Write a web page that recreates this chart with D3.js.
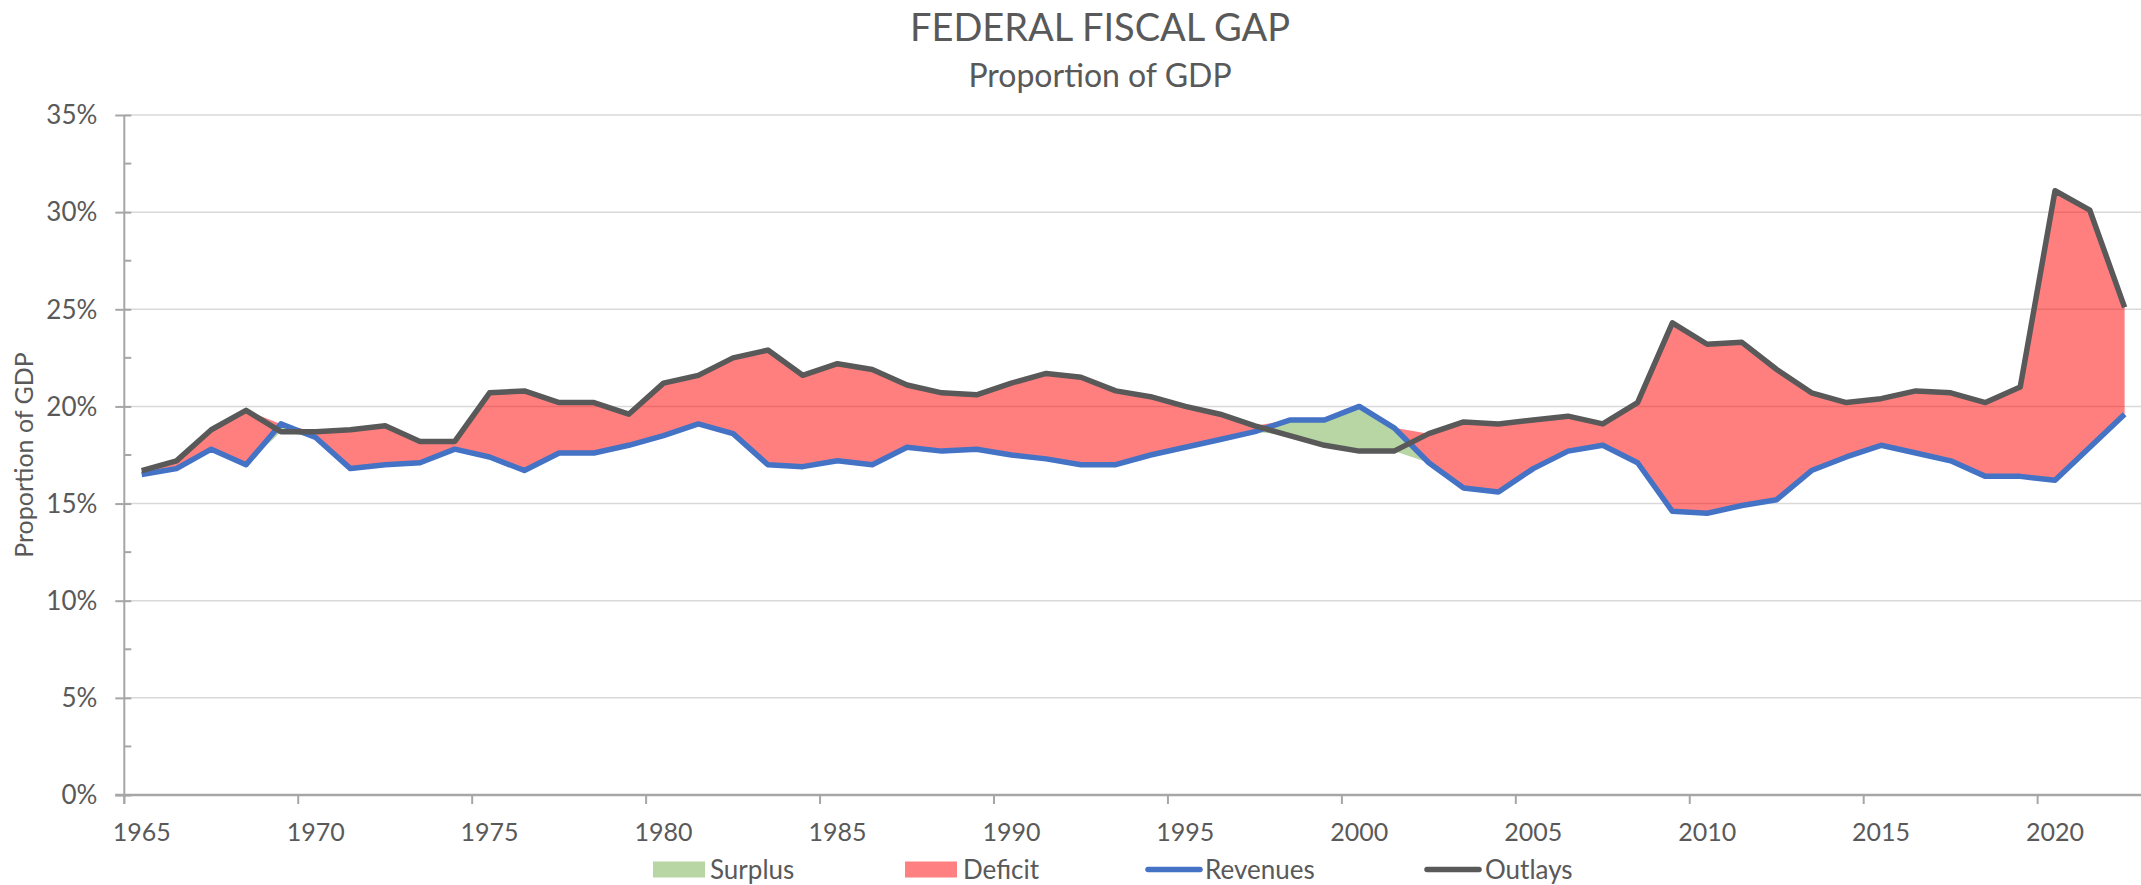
<!DOCTYPE html>
<html>
<head>
<meta charset="utf-8">
<script src="https://cdn.jsdelivr.net/npm/d3@7"></script>
<style>
  body { margin: 0; background: #fff; }
  svg text { font-family: Lato, "Open Sans", sans-serif; fill: #595959; }
</style>
</head>
<body>
<svg id="chart"></svg>
<script>
var years = d3.range(1965, 2023);

// receipts and outlays, % of GDP
var revenues = [16.5, 16.8, 17.8, 17.0, 19.1, 18.4, 16.8, 17.0, 17.1, 17.8,
  17.4, 16.7, 17.6, 17.6, 18.0, 18.5, 19.1, 18.6, 17.0, 16.9,
  17.2, 17.0, 17.9, 17.7, 17.8, 17.5, 17.3, 17.0, 17.0, 17.5,
  17.9, 18.3, 18.7, 19.3, 19.3, 20.0, 18.9, 17.1, 15.8, 15.6,
  16.8, 17.7, 18.0, 17.1, 14.6, 14.5, 14.9, 15.2, 16.7, 17.4,
  18.0, 17.6, 17.2, 16.4, 16.4, 16.2, 17.9, 19.6];

var outlays = [16.7, 17.2, 18.8, 19.8, 18.7, 18.7, 18.8, 19.0, 18.2, 18.2,
  20.7, 20.8, 20.2, 20.2, 19.6, 21.2, 21.6, 22.5, 22.9, 21.6,
  22.2, 21.9, 21.1, 20.7, 20.6, 21.2, 21.7, 21.5, 20.8, 20.5,
  20.0, 19.6, 19.0, 18.5, 18.0, 17.7, 17.7, 18.6, 19.2, 19.1,
  19.3, 19.5, 19.1, 20.2, 24.3, 23.2, 23.3, 21.9, 20.7, 20.2,
  20.4, 20.8, 20.7, 20.2, 21.0, 31.1, 30.1, 25.1];

var yTicks = [0, 5, 10, 15, 20, 25, 30, 35];
var xLabelYears = d3.range(1965, 2021, 5);

var width = 2141, height = 885;
var plot = { left: 124.3, right: 2142, top: 115, bottom: 795 };

var svg = d3.select('#chart').attr('width', width).attr('height', height);

var x = d3.scaleBand().domain(years).range([plot.left, plot.right]).padding(0);
var xc = function(yr) { return x(yr) + x.bandwidth() / 2; };
var y = d3.scaleLinear().domain([0, 35]).range([plot.bottom, plot.top]);

// stacked table: invisible base, surplus, deficit
var table = years.map(function(yr, i) {
  var r = revenues[i], o = outlays[i];
  return {
    year: yr,
    base: Math.min(r, o),
    surplus: Math.max(r - o, 0),
    deficit: Math.max(o - r, 0)
  };
});
var stacked = d3.stack().keys(['base', 'surplus', 'deficit'])(table);

// gridlines
svg.append('g')
  .selectAll('line')
  .data(yTicks.slice(1))
  .enter()
  .append('line')
  .attr('x1', plot.left).attr('x2', plot.right)
  .attr('y1', function(d) { return y(d); })
  .attr('y2', function(d) { return y(d); })
  .attr('stroke', '#d9d9d9')
  .attr('stroke-width', 1.5);

var area = d3.area()
  .x(function(d) { return xc(d.data.year); })
  .y0(function(d) { return y(d[0]); })
  .y1(function(d) { return y(d[1]); });

svg.append('path')
  .datum(stacked[1])
  .attr('d', area)
  .attr('fill', 'rgba(112,173,71,0.5)');

svg.append('path')
  .datum(stacked[2])
  .attr('d', area)
  .attr('fill', 'rgba(255,0,0,0.5)');

// y axis
var yAxis = svg.append('g').attr('transform', 'translate(' + plot.left + ',0)');
yAxis.call(d3.axisLeft(y).tickValues(yTicks).tickFormat(function(d) { return d + '%'; }).tickSize(9).tickPadding(18))
yAxis.select('.domain').remove();
yAxis.selectAll('.tick line').attr('stroke', '#a6a6a6').attr('stroke-width', 2).attr('x2', 7).attr('x1', -9);
yAxis.selectAll('.tick text')
  .style('font-size', '26px')
  .attr('dy', '0.34em');
yAxis.selectAll('.minor')
  .data(d3.range(2.5, 35, 5))
  .enter()
  .append('line')
  .attr('x1', 0).attr('x2', 7)
  .attr('y1', function(d) { return y(d); })
  .attr('y2', function(d) { return y(d); })
  .attr('stroke', '#a6a6a6')
  .attr('stroke-width', 2);
yAxis.append('line')
  .attr('x1', 0).attr('x2', 0)
  .attr('y1', plot.top).attr('y2', plot.bottom + 9)
  .attr('stroke', '#a6a6a6')
  .attr('stroke-width', 2);

// x axis
var xAxis = svg.append('g');
xAxis.append('line')
  .attr('x1', plot.left - 9).attr('x2', plot.right)
  .attr('y1', plot.bottom).attr('y2', plot.bottom)
  .attr('stroke', '#a6a6a6')
  .attr('stroke-width', 2.5);
xAxis.selectAll('.xtick')
  .data(years.filter(function(yr) { return (yr - 1965) % 5 === 0; }))
  .enter()
  .append('line')
  .attr('x1', function(d) { return x(d); })
  .attr('x2', function(d) { return x(d); })
  .attr('y1', plot.bottom).attr('y2', plot.bottom + 9)
  .attr('stroke', '#a6a6a6')
  .attr('stroke-width', 2);
xAxis.selectAll('.xlabel')
  .data(xLabelYears)
  .enter()
  .append('text')
  .attr('x', function(d) { return xc(d); })
  .attr('y', 841)
  .attr('text-anchor', 'middle')
  .style('font-size', '25px')
  .text(function(d) { return d; });

// lines
var line = function(vals) {
  return d3.line()
    .x(function(d, i) { return xc(years[i]); })
    .y(function(d) { return y(d); })(vals);
};

svg.append('path')
  .attr('d', line(revenues))
  .attr('fill', 'none')
  .attr('stroke', '#4472c4')
  .attr('stroke-width', 5.5)
  .attr('stroke-linejoin', 'round');

svg.append('path')
  .attr('d', line(outlays))
  .attr('fill', 'none')
  .attr('stroke', '#595959')
  .attr('stroke-width', 5.5)
  .attr('stroke-linejoin', 'round');

// titles
svg.append('text')
  .attr('x', 1100).attr('y', 41)
  .attr('text-anchor', 'middle')
  .style('font-size', '38px')
  .text('FEDERAL FISCAL GAP');

svg.append('text')
  .attr('x', 1100).attr('y', 87)
  .attr('text-anchor', 'middle')
  .style('font-size', '32px')
  .text('Proportion of GDP');

svg.append('text')
  .attr('transform', 'translate(33,455) rotate(-90)')
  .attr('text-anchor', 'middle')
  .style('font-size', '25px')
  .text('Proportion of GDP');

// legend
var legendY = 869.5;
var legend = svg.append('g');
var legendItems = [
  { name: 'Surplus', type: 'box', color: '#b7d6a3', x: 653, tx: 710 },
  { name: 'Deficit', type: 'box', color: '#ff8080', x: 905, tx: 963 },
  { name: 'Revenues', type: 'line', color: '#4472c4', x: 1146, tx: 1205 },
  { name: 'Outlays', type: 'line', color: '#595959', x: 1425, tx: 1485 }
];
legendItems.forEach(function(it) {
  if (it.type === 'box') {
    legend.append('rect')
      .attr('x', it.x).attr('y', legendY - 8)
      .attr('width', 52).attr('height', 16)
      .attr('fill', it.color);
  } else {
    legend.append('line')
      .attr('x1', it.x + 2).attr('x2', it.x + 54)
      .attr('y1', legendY).attr('y2', legendY)
      .attr('stroke', it.color)
      .attr('stroke-width', 5.5)
      .attr('stroke-linecap', 'round');
  }
  legend.append('text')
    .attr('x', it.tx).attr('y', legendY)
    .attr('dy', '0.35em')
    .style('font-size', '26px')
    .text(it.name);
});
</script>
</body>
</html>
